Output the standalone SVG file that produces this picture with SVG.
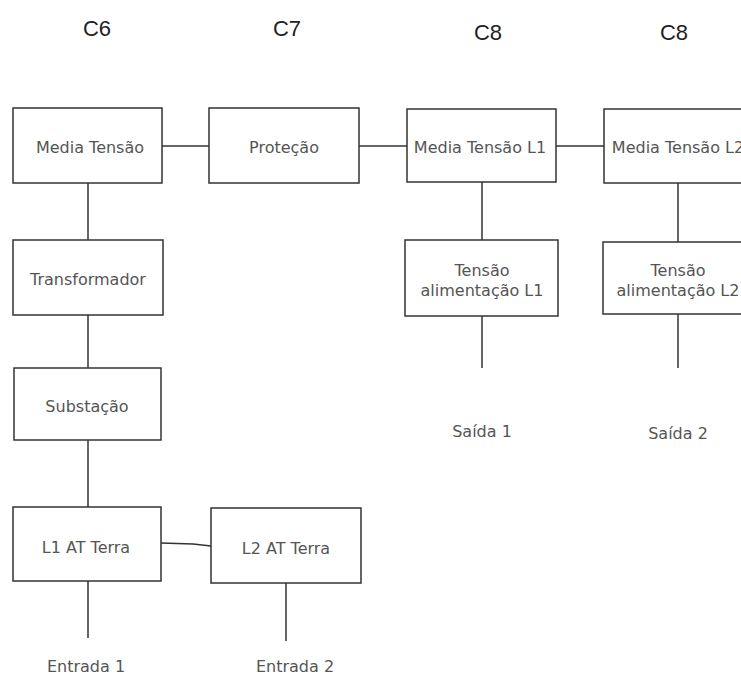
<svg xmlns="http://www.w3.org/2000/svg" width="741" height="678" viewBox="0 0 741 678">
<style>
.box{fill:#fff;stroke:#333;stroke-width:1.5}
.t{font-family:"DejaVu Sans",Verdana,sans-serif;font-size:16px;fill:#555;text-anchor:middle}
.h{font-family:"Liberation Sans",Carlito,sans-serif;font-size:22px;fill:#222;text-anchor:middle}
.c{stroke:#333;stroke-width:1.5;fill:none}
</style>
<rect width="741" height="678" fill="#fff"/>
<g id="headers">
<text class="h" x="97" y="36">C6</text>
<text class="h" x="287" y="36">C7</text>
<text class="h" x="488" y="40">C8</text>
<text class="h" x="674" y="40">C8</text>
</g>
<g id="connectors">
<line class="c" x1="162" y1="146" x2="209" y2="146"/>
<line class="c" x1="359" y1="146" x2="407" y2="146"/>
<line class="c" x1="556" y1="146" x2="604" y2="146"/>
<line class="c" x1="88" y1="183" x2="88" y2="240"/>
<line class="c" x1="88" y1="315" x2="88" y2="368"/>
<line class="c" x1="88" y1="440" x2="88" y2="507"/>
<line class="c" x1="88" y1="581" x2="88" y2="638"/>
<polyline class="c" points="161,543 193,544 211,546"/>
<line class="c" x1="286" y1="583" x2="286" y2="641"/>
<line class="c" x1="482" y1="182" x2="482" y2="240"/>
<line class="c" x1="482" y1="316" x2="482" y2="368"/>
<line class="c" x1="678" y1="183" x2="678" y2="242"/>
<line class="c" x1="678" y1="314" x2="678" y2="368"/>
</g>
<g id="media-tensao"><rect class="box" x="13" y="108" width="149" height="75"/><text class="t" x="90" y="153">Media Tensão</text></g>
<g id="protecao"><rect class="box" x="209" y="108" width="150" height="75"/><text class="t" x="284" y="153">Proteção</text></g>
<g id="media-tensao-l1"><rect class="box" x="407" y="109" width="149" height="73"/><text class="t" x="480" y="153">Media Tensão L1</text></g>
<g id="media-tensao-l2"><rect class="box" x="604" y="109" width="150" height="74"/><text class="t" x="678" y="153">Media Tensão L2</text></g>
<g id="transformador"><rect class="box" x="13" y="240" width="150" height="75"/><text class="t" x="88" y="285">Transformador</text></g>
<g id="substacao"><rect class="box" x="14" y="368" width="147" height="72"/><text class="t" x="87" y="412">Substação</text></g>
<g id="l1-at-terra"><rect class="box" x="13" y="507" width="148" height="74"/><text class="t" x="86" y="553">L1 AT Terra</text></g>
<g id="l2-at-terra"><rect class="box" x="211" y="508" width="150" height="75"/><text class="t" x="286" y="554">L2 AT Terra</text></g>
<g id="tensao-alim-l1"><rect class="box" x="405" y="240" width="153" height="76"/><text class="t" x="482" y="276">Tensão</text><text class="t" x="482" y="296">alimentação L1</text></g>
<g id="tensao-alim-l2"><rect class="box" x="603" y="242" width="150" height="72"/><text class="t" x="678" y="276">Tensão</text><text class="t" x="678" y="296">alimentação L2</text></g>
<g id="labels">
<text class="t" x="482" y="437">Saída 1</text>
<text class="t" x="678" y="439">Saída 2</text>
<text class="t" x="86" y="672">Entrada 1</text>
<text class="t" x="295" y="672">Entrada 2</text>
</g>
</svg>
